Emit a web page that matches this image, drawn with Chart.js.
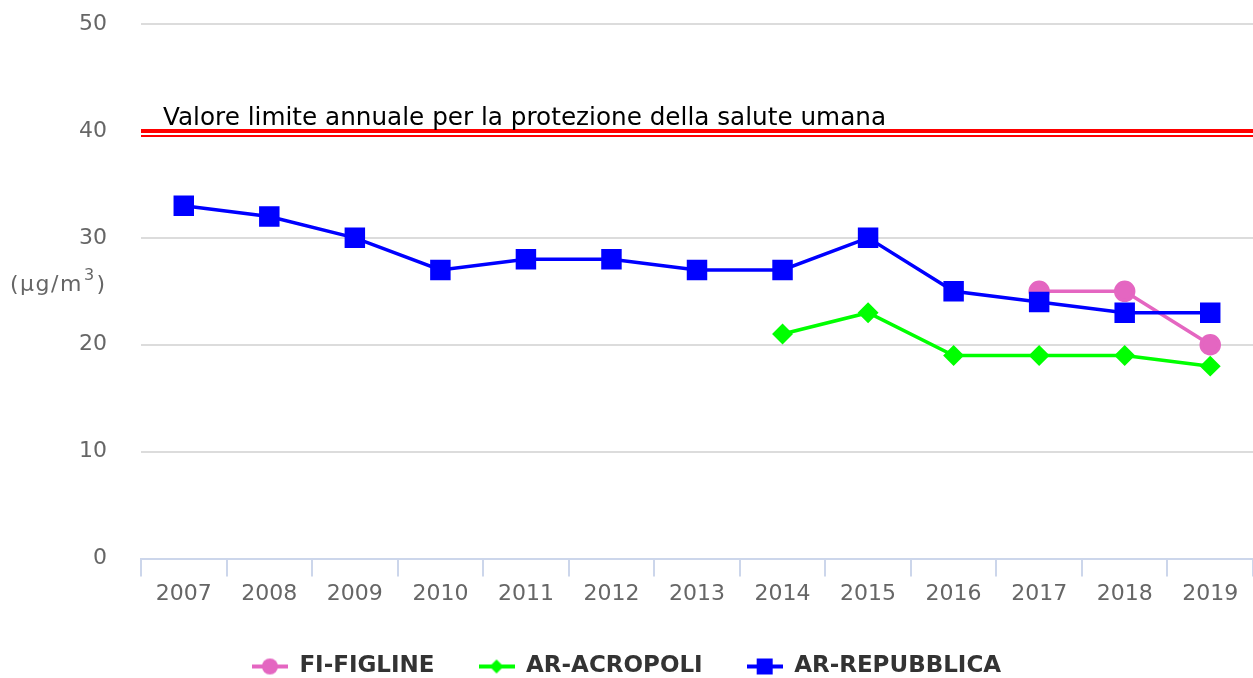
<!DOCTYPE html>
<html lang="it">
<head>
<meta charset="utf-8">
<title>NO2 - media annuale</title>
<script src="https://cdn.jsdelivr.net/npm/chart.js@4.4.1/dist/chart.umd.min.js"></script>
<style>
  html, body { margin: 0; padding: 0; background: #fff; overflow: hidden; }
  #wrap { width: 1253px; height: 678px; position: relative; }
  canvas { display: block; }
</style>
</head>
<body>
<div id="wrap"><canvas id="chart"></canvas></div>
<script>
const years = ['2007', '2008', '2009', '2010', '2011', '2012', '2013', '2014', '2015', '2016', '2017', '2018', '2019'];
const figline = [null, null, null, null, null, null, null, null, null, null, 25, 25, 20];
const acropoli = [null, null, null, null, null, null, null, 21, 23, 19, 19, 19, 18];
const repubblica = [33, 32, 30, 27, 28, 28, 27, 27, 30, 25, 24, 23, 23];
const yTicks = [0, 10, 20, 30, 40, 50];

const limitValue = 40;
const limitLabel = 'Valore limite annuale per la protezione della salute umana';
const yTitleBase = '(µg/m';
const yTitleSup = '3';
const yTitleEnd = ')';

const FONT = '"DejaVu Sans", Verdana, sans-serif';

// small line + marker swatch used as legend symbol
function swatch(color, style, r) {
  const c = document.createElement('canvas');
  c.width = 36; c.height = 22;
  const g = c.getContext('2d');
  g.strokeStyle = color; g.fillStyle = color; g.lineWidth = 4;
  g.beginPath(); g.moveTo(0, 11); g.lineTo(36, 11); g.stroke();
  g.beginPath();
  if (style === 'circle') g.arc(18, 11, r, 0, Math.PI * 2);
  else if (style === 'rect') g.rect(18 - r, 11 - r, 2 * r, 2 * r);
  else { g.moveTo(18 - r, 11); g.lineTo(18, 11 - r); g.lineTo(18 + r, 11); g.lineTo(18, 11 + r); g.closePath(); }
  g.fill();
  return c;
}

const limitPlugin = {
  id: 'limitLine',
  beforeDatasetsDraw(chart) {
    const { ctx, chartArea } = chart;
    const y = chart.scales.y.getPixelForValue(limitValue);
    ctx.save();
    ctx.strokeStyle = '#ff0000';
    ctx.lineWidth = 4;
    ctx.beginPath(); ctx.moveTo(chartArea.left, y); ctx.lineTo(chartArea.right, y); ctx.stroke();
    ctx.lineWidth = 2;
    ctx.beginPath(); ctx.moveTo(chartArea.left, y + 5); ctx.lineTo(chartArea.right, y + 5); ctx.stroke();
    ctx.fillStyle = '#000';
    ctx.font = '24.7px ' + FONT;
    ctx.textAlign = 'left';
    ctx.textBaseline = 'alphabetic';
    ctx.fillText(limitLabel, chartArea.left + 22, y - 6);
    ctx.restore();
  },
  afterDraw(chart) {
    // horizontal axis title with a raised exponent
    const ctx = chart.ctx;
    const yMid = 285;
    ctx.save();
    ctx.fillStyle = '#666';
    ctx.textAlign = 'left';
    ctx.textBaseline = 'middle';
    ctx.letterSpacing = '1.5px';
    ctx.font = '22px ' + FONT;
    let x = 10;
    ctx.fillText(yTitleBase, x, yMid);
    x += ctx.measureText(yTitleBase).width + 1;
    ctx.font = '16px ' + FONT;
    ctx.fillText(yTitleSup, x, yMid - 9);
    x += ctx.measureText(yTitleSup).width + 1;
    ctx.font = '22px ' + FONT;
    ctx.fillText(yTitleEnd, x, yMid);
    ctx.restore();
  }
};

new Chart(document.getElementById('chart'), {
  type: 'line',
  data: {
    labels: years,
    datasets: [
      {
        label: 'FI-FIGLINE', data: figline, order: 2,
        borderColor: '#e466c1', backgroundColor: '#e466c1', borderWidth: 3.5,
        pointStyle: 'circle', pointRadius: 9, pointHoverRadius: 9,
        legendSymbol: swatch('#e466c1', 'circle', 8)
      },
      {
        label: 'AR-ACROPOLI', data: acropoli, order: 1,
        borderColor: '#00ff00', backgroundColor: '#00ff00', borderWidth: 3.5,
        pointStyle: 'rectRot', pointRadius: 8, pointHoverRadius: 8,
        legendSymbol: swatch('#00ff00', 'diamond', 7)
      },
      {
        label: 'AR-REPUBBLICA', data: repubblica, order: 0,
        borderColor: '#0000ff', backgroundColor: '#0000ff', borderWidth: 3.5,
        pointStyle: 'rect', pointRadius: 12, pointHoverRadius: 12,
        legendSymbol: swatch('#0000ff', 'rect', 8)
      }
    ]
  },
  options: {
    responsive: true,
    maintainAspectRatio: false,
    animation: false,
    spanGaps: false,
    layout: { autoPadding: false, padding: { top: 24, right: 0, bottom: -10, left: 0 } },
    plugins: {
      tooltip: { enabled: false },
      legend: {
        position: 'bottom',
        labels: {
          usePointStyle: true,
          pointStyleWidth: 36,
          padding: 44,
          color: '#333',
          font: { family: FONT, size: 23, weight: 'bold' },
          sort: (a, b) => a.datasetIndex - b.datasetIndex,
          generateLabels(chart) {
            return chart.data.datasets.map((ds, i) => ({
              text: ds.label,
              datasetIndex: i,
              pointStyle: ds.legendSymbol,
              fillStyle: ds.borderColor,
              strokeStyle: ds.borderColor,
              lineWidth: 0,
              hidden: !chart.isDatasetVisible(i),
              fontColor: '#333'
            }));
          }
        }
      }
    },
    scales: {
      x: {
        offset: true,
        grid: {
          offset: true,
          drawOnChartArea: false,
          drawTicks: true,
          tickLength: 18,
          color: '#ccd6eb',
          lineWidth: 2
        },
        border: { color: '#ccd6eb', width: 2 },
        ticks: { color: '#666', font: { family: FONT, size: 22 }, padding: 4, maxRotation: 0 },
        afterFit(scale) { scale.paddingLeft = 0; scale.paddingRight = 0; }
      },
      y: {
        min: 0, max: 50,
        afterBuildTicks(scale) { scale.ticks = yTicks.map(v => ({ value: v })); },
        afterFit(scale) { scale.width = 141; scale.paddingTop = 0; scale.paddingBottom = 0; },
        grid: { color: '#dcdcdc', lineWidth: 2, drawTicks: false },
        border: { display: false },
        ticks: { color: '#666', font: { family: FONT, size: 22 }, padding: 34 }
      }
    }
  },
  plugins: [limitPlugin]
});
</script>
</body>
</html>
